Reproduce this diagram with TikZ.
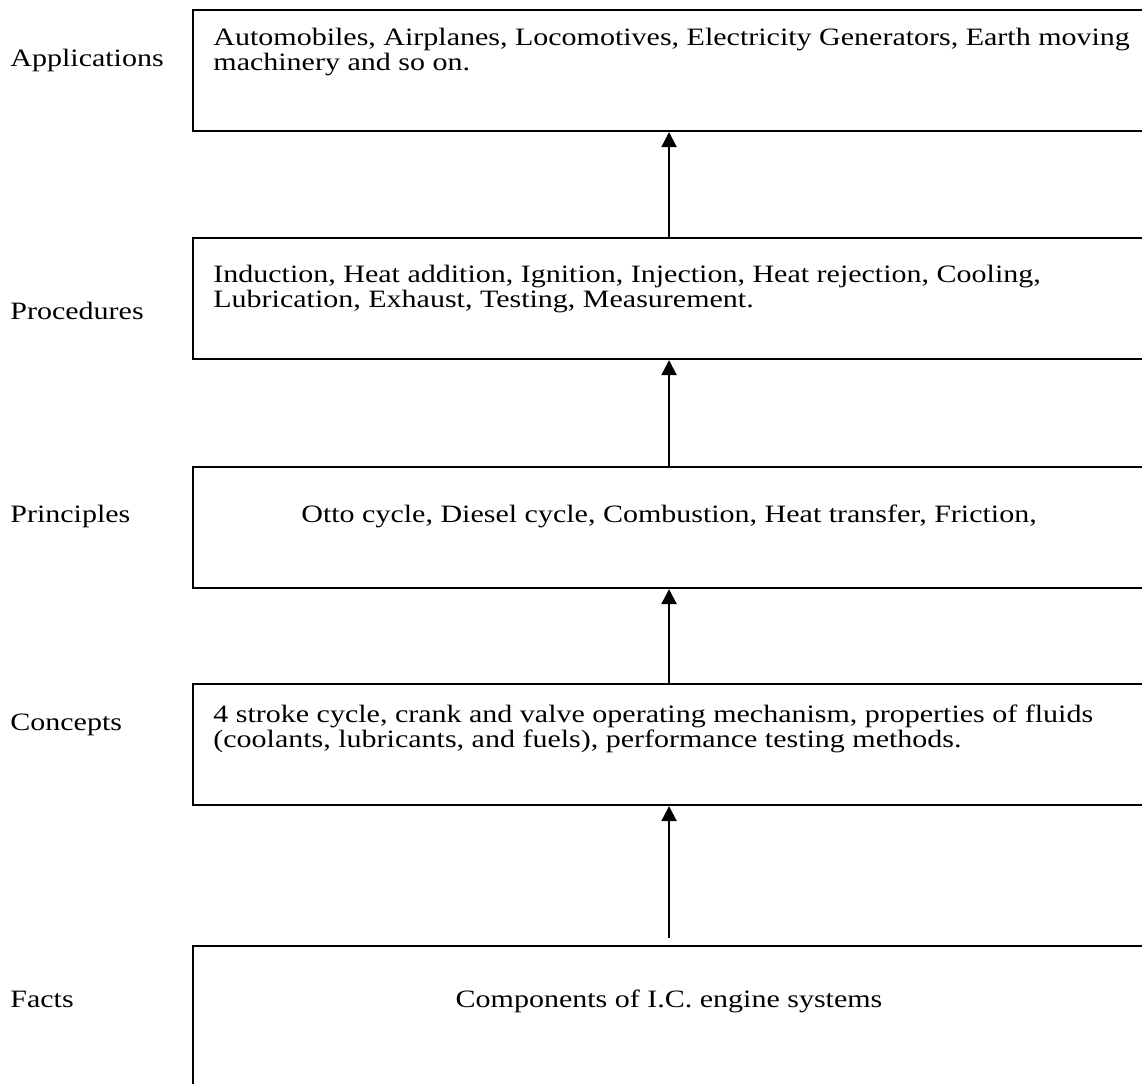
\documentclass[tikz,border=0pt]{standalone}
\usepackage{fontspec}
\setmainfont{Liberation Serif}[FakeStretch=1.2]
\usetikzlibrary{arrows.meta,positioning}

\def\px{0.48pt}
\tikzset{
	layer/.style={draw, line width=1pt, anchor=north west, inner sep=0pt,
		minimum width=952*\px, minimum height=121*\px},
	layertext/.style={inner sep=0pt, align=left, font=\fontsize{12}{12}\selectfont},
	levelname/.style={inner sep=0pt, anchor=base west, font=\fontsize{12}{12}\selectfont},
	uparrow/.style={line width=1pt, -{Triangle[width=7.2pt,length=7.2pt]}}
}

\begin{document}
\begin{tikzpicture}[x=\px, y=-\px]
	\useasboundingbox (0,0) rectangle (1142,1084);
	\clip (0,0) rectangle (1142,1084);
	% boxes
	\node[layer] (app) at (192,9) {};
	\node[layer] (proc) at (192,237) {};
	\node[layer] (princ) at (192,466) {};
	\node[layer] (conc) at (192,683) {};
	\node[layer, minimum height=200*\px] (fact) at (192,945) {};
	% box texts
	\node[layertext, anchor=base west] (apptext) at ([shift={(21,37)}]app.north west)
		{Automobiles, Airplanes, Locomotives, Electricity Generators, Earth moving};
	\node[layertext, anchor=base west] (apptext2) at ([shift={(21,62)}]app.north west)
		{machinery and so on.};
	\node[layertext, anchor=base west] (proctext) at ([shift={(21,45)}]proc.north west)
		{Induction, Heat addition, Ignition, Injection, Heat rejection, Cooling,};
	\node[layertext, anchor=base west] (proctext2) at ([shift={(21,70)}]proc.north west)
		{Lubrication, Exhaust, Testing, Measurement.};
	\node[layertext, anchor=base] (princtext) at ([shift={(0,56)}]princ.north)
		{Otto cycle, Diesel cycle, Combustion, Heat transfer, Friction,};
	\node[layertext, anchor=base west] (conctext) at ([shift={(21,39)}]conc.north west)
		{4 stroke cycle, crank and valve operating mechanism, properties of fluids};
	\node[layertext, anchor=base west] (conctext2) at ([shift={(21,64)}]conc.north west)
		{(coolants, lubricants, and fuels), performance testing methods.};
	\node[layertext, anchor=base] (facttext) at ([shift={(0,62)}]fact.north)
		{Components of I.C. engine systems};
	% level names
	\node[levelname] (appname) at (10,67) {Applications};
	\node[levelname] (procname) at (10,319) {Procedures};
	\node[levelname] (princname) at (10,522) {Principles};
	\node[levelname] (concname) at (10,730) {Concepts};
	\node[levelname] (factname) at (10,1007) {Facts};
	% arrows
	\coordinate (factin) at ([yshift=7*\px]fact.north);
	\draw[uparrow] (factin) -- (conc.south);
	\draw[uparrow] (conc.north) -- (princ.south);
	\draw[uparrow] (princ.north) -- (proc.south);
	\draw[uparrow] (proc.north) -- (app.south);
\end{tikzpicture}
\end{document}
